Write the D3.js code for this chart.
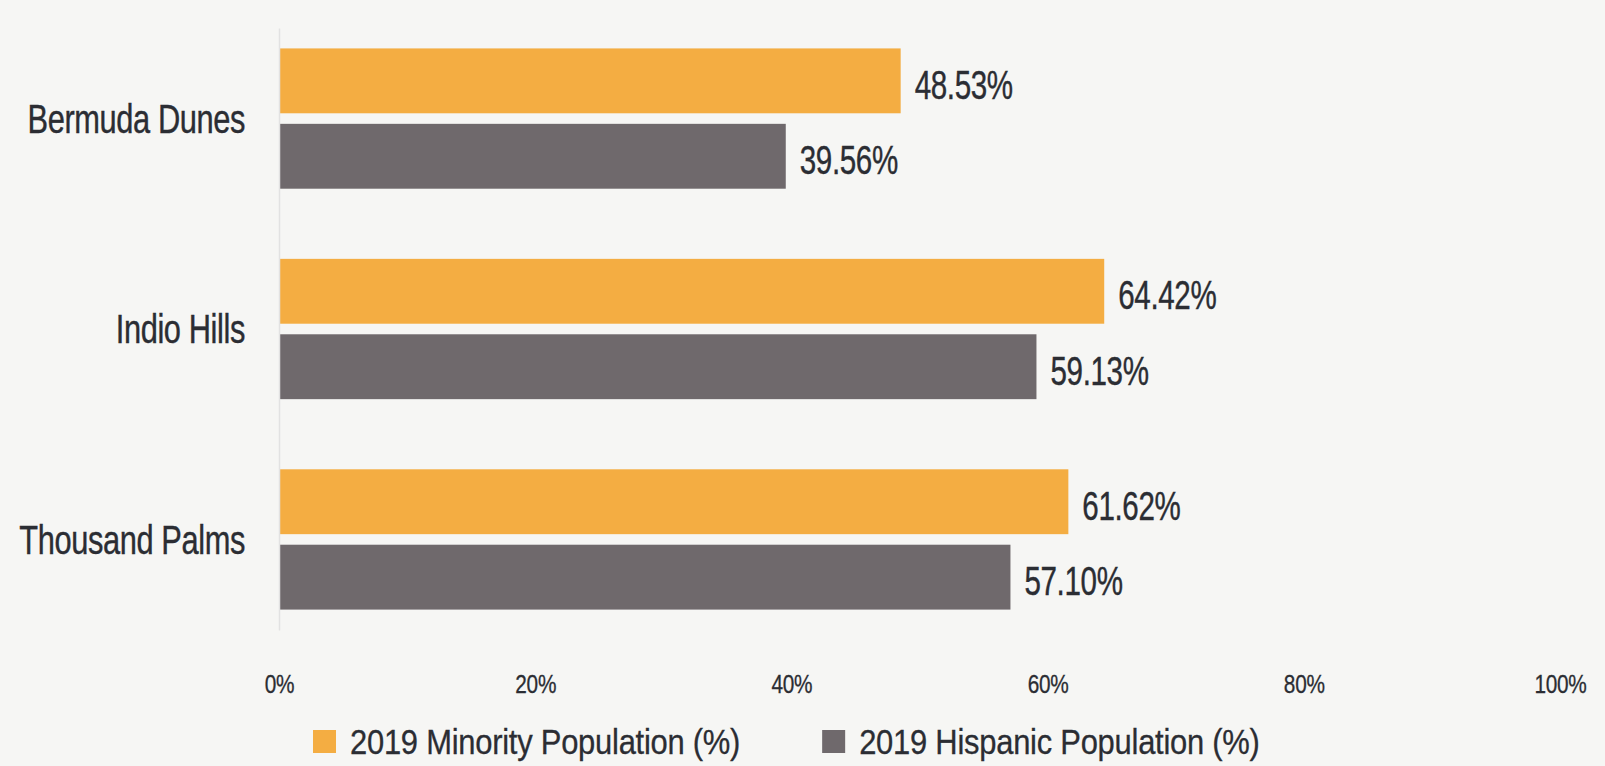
<!DOCTYPE html>
<html>
<head>
<meta charset="utf-8">
<script src="https://cdn.jsdelivr.net/npm/d3@7/dist/d3.min.js"></script>
<style>
  html, body { margin: 0; padding: 0; background: #f6f6f4; }
  svg { display: block; }
  text { font-family: "Liberation Sans", Arial, sans-serif; fill: #2b2d33; }
</style>
</head>
<body>
<svg id="chart" width="1605" height="766"></svg>
<script>
// Places and the two population shares (%) for each
const categories = ["Bermuda Dunes", "Indio Hills", "Thousand Palms"];
const minorityValues = [48.53, 64.42, 61.62];
const hispanicValues = [39.56, 59.13, 57.10];
const seriesNames = ["2019 Minority Population (%)", "2019 Hispanic Population (%)"];
const seriesColors = ["#f4ad42", "#6f696c"];
const tickValues = [0, 20, 40, 60, 80, 100];
const tickLabels = ["0%", "20%", "40%", "60%", "80%", "100%"];

const rows = categories.map((c, i) => ({
  category: c,
  values: [minorityValues[i], hispanicValues[i]]
}));

// Horizontal squeeze factors that give the text a condensed face
const squeeze = { category: 0.77, value: 0.74, tick: 0.8, legend: 0.86 };

const svg = d3.select("#chart");
svg.append("rect").attr("width", 1605).attr("height", 766).attr("fill", "#f6f6f4");

const x = d3.scaleLinear().domain([0, 100]).range([279, 1560]);

const y = d3.scaleBand()
  .domain(categories)
  .range([28, 630])
  .paddingInner(1 / 3)
  .paddingOuter(0.097);

const ySeries = d3.scaleBand()
  .domain(d3.range(seriesNames.length))
  .range([0, y.bandwidth()])
  .paddingInner(0.14);

// Bars
const groups = svg.append("g").selectAll("g")
  .data(rows)
  .join("g")
  .attr("transform", d => `translate(0,${y(d.category)})`);

groups.selectAll("rect")
  .data(d => d.values.map((v, k) => ({ v, k })))
  .join("rect")
  .attr("x", x(0))
  .attr("y", d => ySeries(d.k))
  .attr("width", d => x(d.v) - x(0))
  .attr("height", ySeries.bandwidth())
  .attr("fill", d => seriesColors[d.k]);

// Value labels at the end of each bar
groups.selectAll("g.value")
  .data(d => d.values.map((v, k) => ({ v, k })))
  .join("g")
  .attr("class", "value")
  .attr("transform", d => `translate(${x(d.v) + 14},${ySeries(d.k) + ySeries.bandwidth() / 2}) scale(${squeeze.value},1)`)
  .append("text")
  .attr("dy", "0.45em")
  .style("font-size", "40px")
  .style("letter-spacing", "-0.5px")
  .style("stroke", "#2b2d33")
  .style("stroke-width", "0.4px")
  .text(d => d.v.toFixed(2) + "%");

// Category axis with its vertical line
const yAxis = svg.append("g")
  .attr("transform", `translate(${x(0)},0)`)
  .call(d3.axisLeft(y).tickSize(0).tickPadding(34).tickSizeOuter(0));
yAxis.select(".domain").attr("stroke", "#e2e2e2").attr("stroke-width", 1.5);
yAxis.selectAll(".tick text")
  .attr("x", -34 / squeeze.category)
  .attr("transform", `scale(${squeeze.category},1)`)
  .attr("dy", "0.36em")
  .style("font-size", "40px")
  .style("letter-spacing", "-0.5px")
  .style("fill", "#2b2d33")
  .style("stroke", "#2b2d33")
  .style("stroke-width", "0.4px")
  .style("font-family", "'Liberation Sans', Arial, sans-serif");

// Percentage axis, labels only
const xAxis = svg.append("g")
  .attr("transform", "translate(0,664)")
  .call(d3.axisBottom(x).tickValues(tickValues)
    .tickFormat((d, i) => tickLabels[i]).tickSize(0).tickPadding(10.5));
xAxis.select(".domain").remove();
xAxis.selectAll(".tick text")
  .attr("transform", `scale(${squeeze.tick},1)`)
  .style("font-size", "26px")
  .style("letter-spacing", "-0.3px")
  .style("fill", "#2b2d33")
  .style("stroke", "#2b2d33")
  .style("stroke-width", "0.3px")
  .style("font-family", "'Liberation Sans', Arial, sans-serif");

// Legend
const legend = svg.append("g").attr("transform", "translate(313,730)");
let lx = 0;
seriesNames.forEach((name, k) => {
  const item = legend.append("g").attr("transform", `translate(${lx},0)`);
  item.append("rect").attr("width", 23).attr("height", 23).attr("fill", seriesColors[k]);
  const t = item.append("text")
    .attr("transform", `translate(37,24) scale(${squeeze.legend},1)`)
    .style("font-size", "36px")
    .style("letter-spacing", "-0.3px")
    .style("stroke", "#2b2d33")
    .style("stroke-width", "0.3px")
    .text(name);
  lx += 37 + t.node().getComputedTextLength() * squeeze.legend + 82;
});
</script>
</body>
</html>
